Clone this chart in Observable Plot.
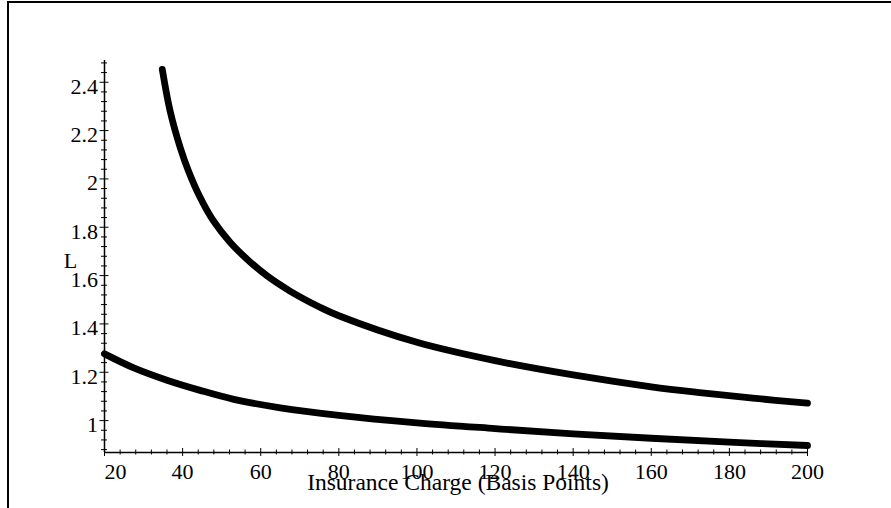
<!DOCTYPE html>
<html>
<head>
<meta charset="utf-8">
<script src="https://cdn.jsdelivr.net/npm/d3@7"></script>
<script src="https://cdn.jsdelivr.net/npm/@observablehq/plot@0.6"></script>
<style>
  html, body { margin: 0; padding: 0; background: #fff; }
  #wrap { position: relative; width: 891px; height: 508px; overflow: hidden; }
  #border { position: absolute; left: 7px; top: 1px; right: -4px; bottom: -4px;
            border-top: 2px solid #000; border-left: 2px solid #000; pointer-events: none; }
</style>
</head>
<body>
<div id="wrap"><div id="border"></div></div>
<script>
// Upper curve
const upperX = [34.8, 36.8, 39.4, 41.5, 44.5, 47.9, 52.2, 56.5, 61.6, 67.6, 75.3, 80, 100, 120, 140, 160, 173, 186, 200];
const upperY = [2.453, 2.281, 2.129, 2.033, 1.923, 1.826, 1.737, 1.668, 1.599, 1.535, 1.468, 1.434, 1.324, 1.248, 1.189, 1.140, 1.115, 1.093, 1.072];
// Lower curve
const lowerX = [20, 27.5, 36, 44.5, 53.1, 65, 80, 100, 120, 140, 160, 180, 200];
const lowerY = [1.276, 1.218, 1.167, 1.125, 1.088, 1.053, 1.022, 0.991, 0.967, 0.945, 0.927, 0.911, 0.897];

// Axes
const xDomain = [20, 200];
const yDomain = [0.868, 2.49];
const xTickValues = [20, 40, 60, 80, 100, 120, 140, 160, 180, 200];
const xTickLabels = ["20", "40", "60", "80", "100", "120", "140", "160", "180", "200"];
const yTickValues = [1, 1.2, 1.4, 1.6, 1.8, 2, 2.2, 2.4];
const yTickLabels = ["1", "1.2", "1.4", "1.6", "1.8", "2", "2.2", "2.4"];
const xLabel = "Insurance Charge (Basis Points)";
const yLabel = "L";

const xMinor = d3.range(5, 51).map(i => i * 4).filter(v => v % 20 !== 0);
const yMinor = d3.range(22, 63).map(i => +(i * 0.04).toFixed(2)).filter(v => Math.abs(v * 5 - Math.round(v * 5)) > 1e-6);

const upper = upperX.map((x, i) => ({x, y: upperY[i]}));
const lower = lowerX.map((x, i) => ({x, y: lowerY[i]}));

const W = 891, H = 508, mL = 104, mR = 84, mT = 60, mB = 56;
const pw = W - mL - mR, ph = H - mT - mB;
const FONT = "'Liberation Serif', 'Times New Roman', serif";

const chart = Plot.plot({
  width: W, height: H,
  marginLeft: mL, marginRight: mR, marginTop: mT, marginBottom: mB,
  x: {domain: xDomain, axis: null},
  y: {domain: yDomain, axis: null},
  style: {fontFamily: FONT, fontSize: "22px", color: "#000", background: "transparent", overflow: "visible"},
  marks: [
    Plot.ruleX([xDomain[0]], {stroke: "#000", strokeWidth: 1.5}),
    Plot.ruleY([yDomain[0]], {stroke: "#000", strokeWidth: 1.5}),
    Plot.tickX(xTickValues, {x: d => d, insetTop: ph - 4, insetBottom: -4, stroke: "#000", strokeWidth: 1}),
    Plot.tickX(xMinor, {x: d => d, insetTop: ph - 2.5, insetBottom: -2.5, stroke: "#000", strokeWidth: 1}),
    Plot.tickY(yTickValues, {y: d => d, insetLeft: -4.5, insetRight: pw - 4.5, stroke: "#000", strokeWidth: 1}),
    Plot.tickY(yMinor, {y: d => d, insetLeft: -3, insetRight: pw - 3, stroke: "#000", strokeWidth: 1}),
    Plot.line(upper, {x: "x", y: "y", stroke: "#000", strokeWidth: 6.8, strokeLinecap: "round", strokeLinejoin: "round", curve: "catmull-rom"}),
    Plot.line(lower, {x: "x", y: "y", stroke: "#000", strokeWidth: 6.8, strokeLinecap: "round", strokeLinejoin: "round", curve: "catmull-rom"}),
    Plot.text(xTickValues.slice(0, 1), {x: d => d, text: xTickLabels.slice(0, 1), frameAnchor: "bottom", dy: 19.5, lineAnchor: "middle", textAnchor: "start", fill: "#000", fontFamily: FONT, fontSize: 22}),
    Plot.text(xTickValues.slice(1), {x: d => d, text: xTickLabels.slice(1), frameAnchor: "bottom", dy: 19.5, lineAnchor: "middle", textAnchor: "middle", fill: "#000", fontFamily: FONT, fontSize: 22}),
    Plot.text(yTickValues, {y: d => d, text: yTickLabels, frameAnchor: "left", dx: -6.5, dy: 4.5, lineAnchor: "middle", textAnchor: "end", fill: "#000", fontFamily: FONT, fontSize: 22}),
    Plot.text([xLabel], {frameAnchor: "bottom", dx: 2, dy: 29.5, lineAnchor: "middle", textAnchor: "middle", fill: "#000", fontFamily: FONT, fontSize: 23.5}),
    Plot.text([yLabel], {frameAnchor: "left", dx: -34, dy: 4, lineAnchor: "middle", textAnchor: "middle", fill: "#000", fontFamily: FONT, fontSize: 22})
  ]
});
chart.style.position = "absolute";
chart.style.left = "0px";
chart.style.top = "0px";
document.getElementById("wrap").appendChild(chart);
</script>
</body>
</html>
